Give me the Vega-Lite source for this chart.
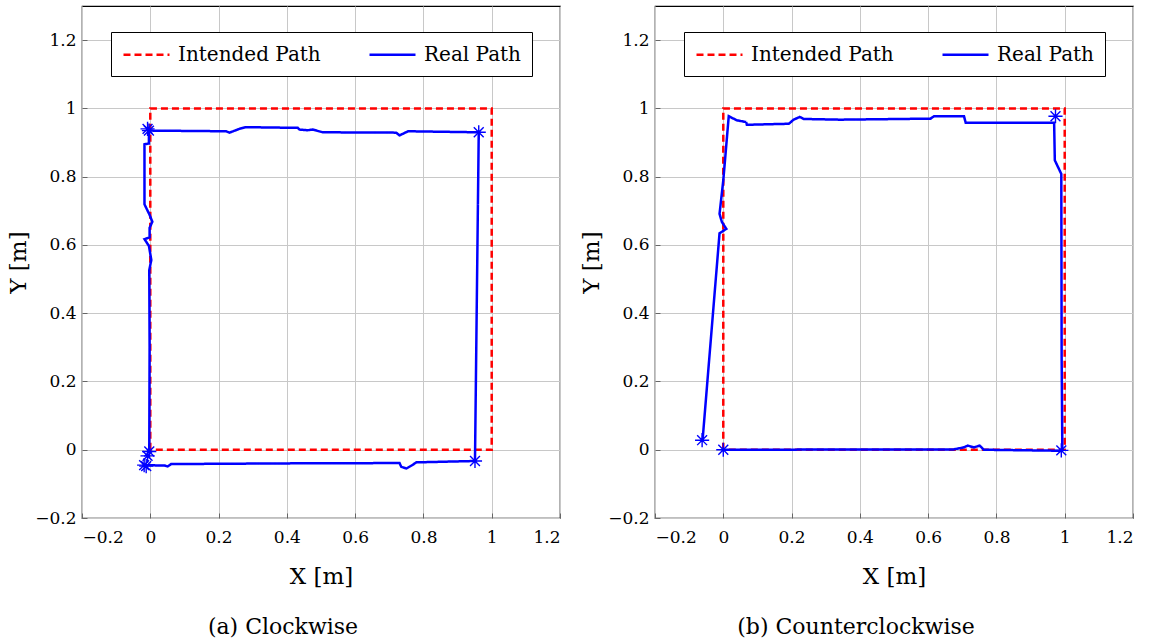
{
  "$schema": "https://vega.github.io/schema/vega-lite/v6.json",
  "background": "white",
  "padding": {"left": 7, "top": 5, "right": 0, "bottom": 0},
  "config": {
    "font": "DejaVu Serif",
    "view": {"stroke": "black", "strokeWidth": 1.2},
    "axis": {
      "labelFont": "DejaVu Serif", "labelFontSize": 17, "labelColor": "black",
      "titleFont": "DejaVu Serif", "titleFontSize": 23, "titleFontWeight": "normal", "titleColor": "black",
      "gridColor": "#c8c8c8", "gridWidth": 1, "domain": false,
      "tickColor": "#666666", "tickSize": -5
    },
    "axisX": {"labelPadding": 16, "titlePadding": 20},
    "axisY": {"labelPadding": 11, "titlePadding": 4},
    "legend": {"labelFont": "DejaVu Serif"},
    "title": {"font": "DejaVu Serif", "fontSize": 22, "fontWeight": "normal", "color": "black"},
    "concat": {"spacing": 18}
  },
  "datasets": {
    "paths": [
      {"panel": "a", "series": "Intended Path", "i": 1, "x": 0, "y": 0},
      {"panel": "a", "series": "Intended Path", "i": 2, "x": 0, "y": 1},
      {"panel": "a", "series": "Intended Path", "i": 3, "x": 1, "y": 1},
      {"panel": "a", "series": "Intended Path", "i": 4, "x": 1, "y": 0},
      {"panel": "a", "series": "Intended Path", "i": 5, "x": 0, "y": 0},
      {"panel": "a", "series": "Real Path", "i": 1, "x": -0.003, "y": -0.008},
      {"panel": "a", "series": "Real Path", "i": 2, "x": -0.002, "y": 0.30},
      {"panel": "a", "series": "Real Path", "i": 3, "x": -0.003, "y": 0.526},
      {"panel": "a", "series": "Real Path", "i": 4, "x": 0.003, "y": 0.556},
      {"panel": "a", "series": "Real Path", "i": 5, "x": -0.004, "y": 0.597},
      {"panel": "a", "series": "Real Path", "i": 6, "x": -0.017, "y": 0.617},
      {"panel": "a", "series": "Real Path", "i": 7, "x": -0.002, "y": 0.622},
      {"panel": "a", "series": "Real Path", "i": 8, "x": -0.002, "y": 0.650},
      {"panel": "a", "series": "Real Path", "i": 9, "x": 0.006, "y": 0.668},
      {"panel": "a", "series": "Real Path", "i": 10, "x": -0.002, "y": 0.688},
      {"panel": "a", "series": "Real Path", "i": 11, "x": -0.017, "y": 0.719},
      {"panel": "a", "series": "Real Path", "i": 12, "x": -0.017, "y": 0.895},
      {"panel": "a", "series": "Real Path", "i": 13, "x": -0.004, "y": 0.897},
      {"panel": "a", "series": "Real Path", "i": 14, "x": -0.004, "y": 0.935},
      {"panel": "a", "series": "Real Path", "i": 15, "x": 0.222, "y": 0.933},
      {"panel": "a", "series": "Real Path", "i": 16, "x": 0.232, "y": 0.929},
      {"panel": "a", "series": "Real Path", "i": 17, "x": 0.261, "y": 0.940},
      {"panel": "a", "series": "Real Path", "i": 18, "x": 0.280, "y": 0.945},
      {"panel": "a", "series": "Real Path", "i": 19, "x": 0.432, "y": 0.943},
      {"panel": "a", "series": "Real Path", "i": 20, "x": 0.437, "y": 0.938},
      {"panel": "a", "series": "Real Path", "i": 21, "x": 0.461, "y": 0.936},
      {"panel": "a", "series": "Real Path", "i": 22, "x": 0.476, "y": 0.938},
      {"panel": "a", "series": "Real Path", "i": 23, "x": 0.505, "y": 0.930},
      {"panel": "a", "series": "Real Path", "i": 24, "x": 0.720, "y": 0.929},
      {"panel": "a", "series": "Real Path", "i": 25, "x": 0.730, "y": 0.921},
      {"panel": "a", "series": "Real Path", "i": 26, "x": 0.755, "y": 0.933},
      {"panel": "a", "series": "Real Path", "i": 27, "x": 0.962, "y": 0.930},
      {"panel": "a", "series": "Real Path", "i": 28, "x": 0.951, "y": -0.033},
      {"panel": "a", "series": "Real Path", "i": 29, "x": 0.779, "y": -0.037},
      {"panel": "a", "series": "Real Path", "i": 30, "x": 0.769, "y": -0.044},
      {"panel": "a", "series": "Real Path", "i": 31, "x": 0.750, "y": -0.055},
      {"panel": "a", "series": "Real Path", "i": 32, "x": 0.735, "y": -0.050},
      {"panel": "a", "series": "Real Path", "i": 33, "x": 0.730, "y": -0.039},
      {"panel": "a", "series": "Real Path", "i": 34, "x": 0.398, "y": -0.040},
      {"panel": "a", "series": "Real Path", "i": 35, "x": 0.061, "y": -0.042},
      {"panel": "a", "series": "Real Path", "i": 36, "x": 0.051, "y": -0.049},
      {"panel": "a", "series": "Real Path", "i": 37, "x": 0.041, "y": -0.046},
      {"panel": "a", "series": "Real Path", "i": 38, "x": 0.021, "y": -0.046},
      {"panel": "a", "series": "Real Path", "i": 39, "x": -0.018, "y": -0.045},
      {"panel": "b", "series": "Intended Path", "i": 1, "x": 0, "y": 0},
      {"panel": "b", "series": "Intended Path", "i": 2, "x": 0, "y": 1},
      {"panel": "b", "series": "Intended Path", "i": 3, "x": 1, "y": 1},
      {"panel": "b", "series": "Intended Path", "i": 4, "x": 1, "y": 0},
      {"panel": "b", "series": "Intended Path", "i": 5, "x": 0, "y": 0},
      {"panel": "b", "series": "Real Path", "i": 1, "x": 0, "y": 0},
      {"panel": "b", "series": "Real Path", "i": 2, "x": 0.675, "y": 0.001},
      {"panel": "b", "series": "Real Path", "i": 3, "x": 0.705, "y": 0.007},
      {"panel": "b", "series": "Real Path", "i": 4, "x": 0.716, "y": 0.012},
      {"panel": "b", "series": "Real Path", "i": 5, "x": 0.734, "y": 0.007},
      {"panel": "b", "series": "Real Path", "i": 6, "x": 0.751, "y": 0.012},
      {"panel": "b", "series": "Real Path", "i": 7, "x": 0.763, "y": 0.0},
      {"panel": "b", "series": "Real Path", "i": 8, "x": 0.988, "y": -0.003},
      {"panel": "b", "series": "Real Path", "i": 9, "x": 0.993, "y": 0.0},
      {"panel": "b", "series": "Real Path", "i": 10, "x": 0.991, "y": 0.271},
      {"panel": "b", "series": "Real Path", "i": 11, "x": 0.990, "y": 0.808},
      {"panel": "b", "series": "Real Path", "i": 12, "x": 0.971, "y": 0.848},
      {"panel": "b", "series": "Real Path", "i": 13, "x": 0.969, "y": 0.958},
      {"panel": "b", "series": "Real Path", "i": 14, "x": 0.710, "y": 0.958},
      {"panel": "b", "series": "Real Path", "i": 15, "x": 0.705, "y": 0.977},
      {"panel": "b", "series": "Real Path", "i": 16, "x": 0.617, "y": 0.977},
      {"panel": "b", "series": "Real Path", "i": 17, "x": 0.607, "y": 0.970},
      {"panel": "b", "series": "Real Path", "i": 18, "x": 0.343, "y": 0.967},
      {"panel": "b", "series": "Real Path", "i": 19, "x": 0.236, "y": 0.969},
      {"panel": "b", "series": "Real Path", "i": 20, "x": 0.224, "y": 0.975},
      {"panel": "b", "series": "Real Path", "i": 21, "x": 0.206, "y": 0.967},
      {"panel": "b", "series": "Real Path", "i": 22, "x": 0.192, "y": 0.955},
      {"panel": "b", "series": "Real Path", "i": 23, "x": 0.069, "y": 0.952},
      {"panel": "b", "series": "Real Path", "i": 24, "x": 0.067, "y": 0.960},
      {"panel": "b", "series": "Real Path", "i": 25, "x": 0.040, "y": 0.965},
      {"panel": "b", "series": "Real Path", "i": 26, "x": 0.030, "y": 0.970},
      {"panel": "b", "series": "Real Path", "i": 27, "x": 0.016, "y": 0.977},
      {"panel": "b", "series": "Real Path", "i": 28, "x": 0.0, "y": 0.789},
      {"panel": "b", "series": "Real Path", "i": 29, "x": -0.011, "y": 0.691},
      {"panel": "b", "series": "Real Path", "i": 30, "x": -0.004, "y": 0.667},
      {"panel": "b", "series": "Real Path", "i": 31, "x": 0.009, "y": 0.647},
      {"panel": "b", "series": "Real Path", "i": 32, "x": 0.001, "y": 0.642},
      {"panel": "b", "series": "Real Path", "i": 33, "x": -0.011, "y": 0.634},
      {"panel": "b", "series": "Real Path", "i": 34, "x": -0.060, "y": 0.036},
      {"panel": "b", "series": "Real Path", "i": 35, "x": -0.062, "y": 0.028}
    ],
    "stars": [
      {"panel": "a", "x": -0.004, "y": 0.935},
      {"panel": "a", "x": -0.008, "y": 0.94},
      {"panel": "a", "x": 0.962, "y": 0.930},
      {"panel": "a", "x": 0.951, "y": -0.033},
      {"panel": "a", "x": -0.018, "y": -0.045},
      {"panel": "a", "x": -0.012, "y": -0.048},
      {"panel": "a", "x": -0.003, "y": -0.005},
      {"panel": "a", "x": -0.008, "y": -0.018},
      {"panel": "b", "x": 0, "y": 0},
      {"panel": "b", "x": 0.973, "y": 0.977},
      {"panel": "b", "x": -0.062, "y": 0.028},
      {"panel": "b", "x": 0.99, "y": -0.002}
    ]
  },
  "hconcat": [
    {
      "width": 478, "height": 512,
      "title": {"text": "(a) Clockwise", "orient": "bottom", "offset": 29, "dx": -38},
      "layer": [
        {
          "data": {"name": "paths"},
          "transform": [{"filter": "datum.panel == 'a'"}],
          "mark": {"type": "line", "strokeWidth": 2.5},
          "encoding": {
            "x": {"field": "x", "type": "quantitative", "scale": {"domain": [-0.2, 1.2], "nice": false, "zero": false}, "axis": {"values": [-0.2, 0, 0.2, 0.4, 0.6, 0.8, 1, 1.2], "format": "~g", "title": "X [m]"}},
            "y": {"field": "y", "type": "quantitative", "scale": {"domain": [-0.2, 1.3], "nice": false, "zero": false}, "axis": {"values": [-0.2, 0, 0.2, 0.4, 0.6, 0.8, 1, 1.2], "format": "~g", "title": "Y [m]"}},
            "order": {"field": "i", "type": "quantitative"},
            "color": {"field": "series", "type": "nominal", "scale": {"domain": ["Intended Path", "Real Path"], "range": ["#ff0000", "#0000ff"]},
              "legend": {"orient": "none", "legendX": 29, "legendY": 26, "direction": "horizontal", "title": null, "symbolType": "M-1,0H3.6", "symbolSize": 400, "symbolStrokeWidth": 2.5, "labelFont": "DejaVu Serif", "labelFontSize": 20, "labelColor": "black", "strokeColor": "black", "fillColor": "white", "padding": 11, "columnPadding": 43, "labelOffset": 33}},
            "strokeDash": {"field": "series", "type": "nominal", "scale": {"domain": ["Intended Path", "Real Path"], "range": [[7, 4], [1, 0]]},
              "legend": {"orient": "none", "legendX": 29, "legendY": 26, "direction": "horizontal", "title": null, "symbolType": "M-1,0H3.6", "symbolSize": 400, "symbolStrokeWidth": 2.5, "labelFont": "DejaVu Serif", "labelFontSize": 20, "labelColor": "black", "strokeColor": "black", "fillColor": "white", "padding": 11, "columnPadding": 43, "labelOffset": 33}}
          }
        },
        {
          "data": {"name": "stars"},
          "transform": [{"filter": "datum.panel == 'a'"}],
          "mark": {"type": "point", "shape": "M-1,0L1,0M0,-1L0,1M-0.7,-0.7L0.7,0.7M-0.7,0.7L0.7,-0.7", "filled": false, "color": "#0000ff", "strokeWidth": 1.4, "size": 200, "opacity": 1},
          "encoding": {
            "x": {"field": "x", "type": "quantitative"},
            "y": {"field": "y", "type": "quantitative"}
          }
        }
      ]
    },
    {
      "width": 478, "height": 512,
      "title": {"text": "(b) Counterclockwise", "orient": "bottom", "offset": 29, "dx": -38},
      "layer": [
        {
          "data": {"name": "paths"},
          "transform": [{"filter": "datum.panel == 'b'"}],
          "mark": {"type": "line", "strokeWidth": 2.5},
          "encoding": {
            "x": {"field": "x", "type": "quantitative", "scale": {"domain": [-0.2, 1.2], "nice": false, "zero": false}, "axis": {"values": [-0.2, 0, 0.2, 0.4, 0.6, 0.8, 1, 1.2], "format": "~g", "title": "X [m]"}},
            "y": {"field": "y", "type": "quantitative", "scale": {"domain": [-0.2, 1.3], "nice": false, "zero": false}, "axis": {"values": [-0.2, 0, 0.2, 0.4, 0.6, 0.8, 1, 1.2], "format": "~g", "title": "Y [m]"}},
            "order": {"field": "i", "type": "quantitative"},
            "color": {"field": "series", "type": "nominal", "scale": {"domain": ["Intended Path", "Real Path"], "range": ["#ff0000", "#0000ff"]},
              "legend": {"orient": "none", "legendX": 29, "legendY": 26, "direction": "horizontal", "title": null, "symbolType": "M-1,0H3.6", "symbolSize": 400, "symbolStrokeWidth": 2.5, "labelFont": "DejaVu Serif", "labelFontSize": 20, "labelColor": "black", "strokeColor": "black", "fillColor": "white", "padding": 11, "columnPadding": 43, "labelOffset": 33}},
            "strokeDash": {"field": "series", "type": "nominal", "scale": {"domain": ["Intended Path", "Real Path"], "range": [[7, 4], [1, 0]]},
              "legend": {"orient": "none", "legendX": 29, "legendY": 26, "direction": "horizontal", "title": null, "symbolType": "M-1,0H3.6", "symbolSize": 400, "symbolStrokeWidth": 2.5, "labelFont": "DejaVu Serif", "labelFontSize": 20, "labelColor": "black", "strokeColor": "black", "fillColor": "white", "padding": 11, "columnPadding": 43, "labelOffset": 33}}
          }
        },
        {
          "data": {"name": "stars"},
          "transform": [{"filter": "datum.panel == 'b'"}],
          "mark": {"type": "point", "shape": "M-1,0L1,0M0,-1L0,1M-0.7,-0.7L0.7,0.7M-0.7,0.7L0.7,-0.7", "filled": false, "color": "#0000ff", "strokeWidth": 1.4, "size": 200, "opacity": 1},
          "encoding": {
            "x": {"field": "x", "type": "quantitative"},
            "y": {"field": "y", "type": "quantitative"}
          }
        }
      ]
    }
  ],
  "resolve": {
    "scale": {"color": "independent", "strokeDash": "independent"},
    "legend": {"color": "independent", "strokeDash": "independent"}
  }
}
